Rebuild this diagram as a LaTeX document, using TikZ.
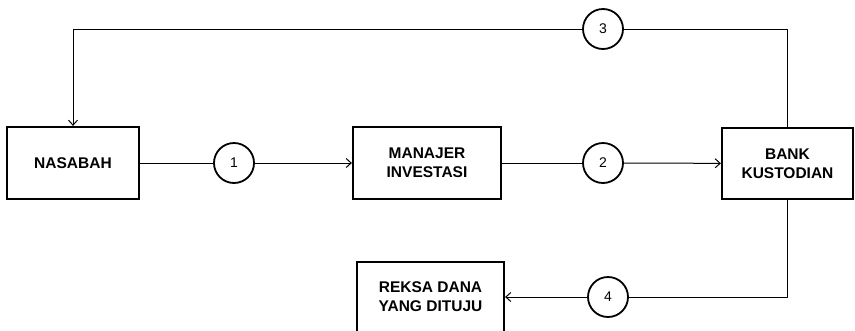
\documentclass[tikz,border=0pt]{standalone}
\usepackage{fontspec}
\setmainfont{Liberation Sans}
\usetikzlibrary{arrows.meta}

\begin{document}
\begin{tikzpicture}[line cap=round,line join=round,>={Straight Barb[length=5pt,width=9pt]},x=1pt,y=-1pt,
    box/.style={draw, line width=2.2pt, line cap=butt, line join=miter, font=\fontsize{15.5}{19}\selectfont\bfseries, align=center, inner sep=0pt},
    op/.style={circle, draw, line width=1.8pt, minimum size=40pt, inner sep=0pt, font=\fontsize{14}{16}\selectfont},
    link/.style={line width=1pt}]
                    \useasboundingbox (0,0) rectangle (855,330);
                    \clip (0,0) rectangle (855,330);

                    \node[box, minimum width=132pt, minimum height=72pt] (nas) at (73,163) {NASABAH};
                    \node[box, minimum width=148pt, minimum height=72pt] (mi) at (427,163) {MANAJER\\INVESTASI};
                    \node[box, minimum width=131pt, minimum height=71pt] (bk) at (787.5,163.5) {BANK\\KUSTODIAN};
                    \node[box, minimum width=147pt, minimum height=70pt] (rd) at (430.5,297) {REKSA DANA\\YANG DITUJU};

                    \node[op] (1) at (234,163) {1};
                    \node[op] (2) at (603,163) {2};
                    \node[op] (3) at (603,29) {3};
                    \node[op] (4) at (608,297) {4};

                    \draw[link] (nas) -- (1);
                    \draw[link, ->] (1) -- (mi);
                    \draw[link] (mi) -- (2);
                    \draw[link, ->] (2) -- (bk);

                    \draw[link] (bk.north) |- (3);
                    \draw[link, ->] (3) -| (nas.north);

                    \draw[link] (bk.south) |- (4);
                    \draw[link, ->] (4) -- (rd);
                \end{tikzpicture}
\end{document}
